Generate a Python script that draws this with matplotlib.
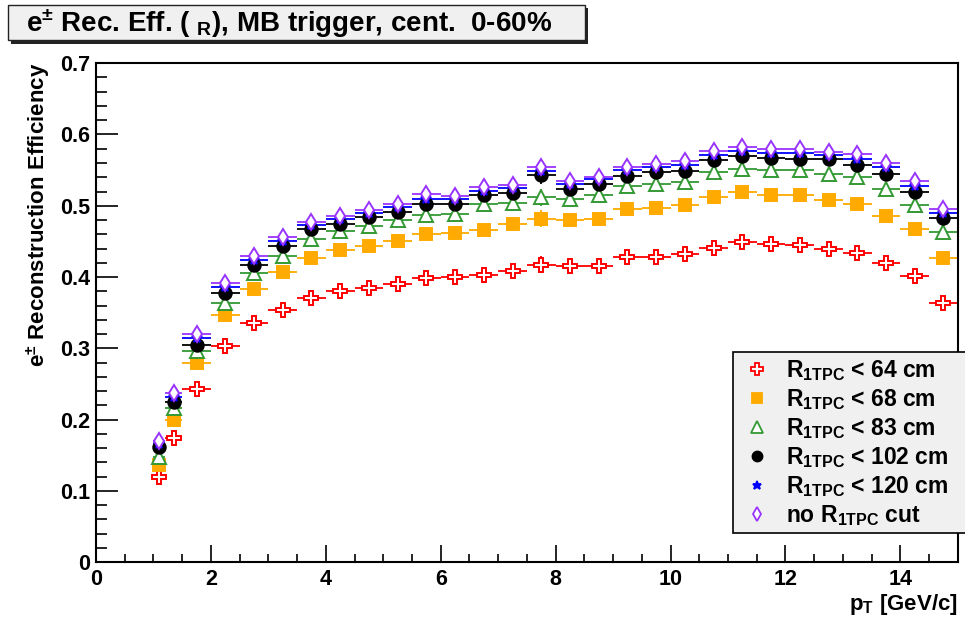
import matplotlib
matplotlib.use("Agg")
import matplotlib.pyplot as plt
from matplotlib.lines import Line2D
from matplotlib.patches import Rectangle

plt.rcParams['font.family'] = ['Liberation Sans', 'DejaVu Sans']
plt.rcParams['font.weight'] = 'bold'
plt.rcParams['axes.labelweight'] = 'bold'
plt.rcParams['mathtext.fontset'] = 'custom'
plt.rcParams['mathtext.rm'] = 'Liberation Sans:bold'
plt.rcParams['mathtext.it'] = 'Liberation Sans:bold'
plt.rcParams['mathtext.bf'] = 'Liberation Sans:bold'
plt.rcParams['mathtext.default'] = 'rm'

# bin centres and half widths (GeV/c)
pt = [1.1, 1.35, 1.75, 2.25, 2.75, 3.25, 3.75, 4.25, 4.75, 5.25, 5.75, 6.25, 6.75,
      7.25, 7.75, 8.25, 8.75, 9.25, 9.75, 10.25, 10.75, 11.25, 11.75, 12.25,
      12.75, 13.25, 13.75, 14.25, 14.75]
pt_err = [0.1, 0.15, 0.25] + [0.25] * 26

eff_64 = [0.119, 0.174, 0.243, 0.303, 0.336, 0.353, 0.370, 0.380, 0.385, 0.390,
          0.399, 0.400, 0.403, 0.409, 0.417, 0.416, 0.416, 0.428, 0.428, 0.432,
          0.441, 0.449, 0.447, 0.445, 0.439, 0.433, 0.420, 0.402, 0.364]
eff_68 = [0.136, 0.199, 0.279, 0.346, 0.383, 0.407, 0.427, 0.438, 0.444, 0.451,
          0.460, 0.462, 0.466, 0.475, 0.482, 0.480, 0.482, 0.495, 0.497, 0.501,
          0.512, 0.519, 0.515, 0.515, 0.508, 0.503, 0.485, 0.467, 0.427]
eff_83 = [0.148, 0.216, 0.296, 0.364, 0.405, 0.430, 0.453, 0.464, 0.472, 0.480,
          0.487, 0.489, 0.502, 0.504, 0.512, 0.510, 0.515, 0.528, 0.530, 0.533,
          0.547, 0.552, 0.550, 0.550, 0.544, 0.540, 0.524, 0.501, 0.463]
eff_102 = [0.161, 0.225, 0.304, 0.378, 0.417, 0.444, 0.467, 0.475, 0.484, 0.491,
           0.502, 0.503, 0.515, 0.518, 0.543, 0.524, 0.531, 0.542, 0.547, 0.549,
           0.564, 0.570, 0.567, 0.566, 0.565, 0.557, 0.545, 0.520, 0.483]
eff_120 = [0.166, 0.232, 0.314, 0.386, 0.424, 0.451, 0.473, 0.481, 0.490, 0.498,
           0.510, 0.509, 0.521, 0.525, 0.549, 0.531, 0.537, 0.550, 0.554, 0.557,
           0.571, 0.577, 0.574, 0.574, 0.571, 0.566, 0.554, 0.528, 0.490]
eff_nocut = [0.170, 0.237, 0.320, 0.392, 0.429, 0.456, 0.477, 0.485, 0.494, 0.502,
             0.516, 0.513, 0.526, 0.529, 0.554, 0.535, 0.541, 0.555, 0.559, 0.563,
             0.577, 0.583, 0.580, 0.580, 0.575, 0.572, 0.560, 0.535, 0.496]
eff_err = [0.006, 0.006, 0.005, 0.004, 0.004, 0.004, 0.004, 0.004, 0.004, 0.004,
           0.004, 0.004, 0.004, 0.004, 0.012, 0.004, 0.004, 0.004, 0.004, 0.004,
           0.004, 0.004, 0.004, 0.004, 0.004, 0.004, 0.005, 0.005, 0.006]

labels = [r"R$_{1TPC}$ < 64 cm", r"R$_{1TPC}$ < 68 cm", r"R$_{1TPC}$ < 83 cm",
          r"R$_{1TPC}$ < 102 cm", r"R$_{1TPC}$ < 120 cm", r"no R$_{1TPC}$ cut"]
yticks = [0, 0.1, 0.2, 0.3, 0.4, 0.5, 0.6, 0.7]
ytick_labels = ["0", "0.1", "0.2", "0.3", "0.4", "0.5", "0.6", "0.7"]
xticks = [0, 2, 4, 6, 8, 10, 12, 14]

# (data, colour, marker, size, filled)
series = [
    (eff_64, "#ff0000", "P", 10, False),
    (eff_68, "#ffaa00", "s", 8.5, True),
    (eff_83, "#339933", "^", 10, False),
    (eff_102, "#000000", "o", 9, True),
    (eff_120, "#0000ff", "*", 8, True),
    (eff_nocut, "#9933ff", "d", 8.5, False),
]

fig = plt.figure(figsize=(9.65, 6.2), dpi=100)
ax = fig.add_axes([0.0995, 0.0935, 0.893, 0.8045])

handles = []
for (vals, col, mk, ms, filled), lab in zip(series, labels):
    face = col if filled else "white"
    ax.errorbar(pt, vals, xerr=pt_err, yerr=eff_err, fmt=mk, color=col,
                ms=ms, mfc=face, mec=col, mew=1.4, elinewidth=1.3, capsize=0)
    handles.append(Line2D([], [], ls="none", marker=mk, color=col, ms=ms * 0.8,
                          mfc=face, mec=col, mew=1.3, label=lab))

ax.set_xlim(0, 15)
ax.set_ylim(0, 0.7)
ax.set_xticks(xticks)
ax.set_xticklabels([str(t) for t in xticks], fontweight="bold")
ax.set_xticks([i * 0.5 for i in range(31)], minor=True)
ax.set_yticks(yticks)
ax.set_yticklabels(ytick_labels, fontweight="bold")
ax.set_yticks([i * 0.02 for i in range(36)], minor=True)
ax.tick_params(axis="both", which="both", direction="in", labelsize=15.5,
               top=False, right=False, width=1.2)
ax.tick_params(axis="y", which="major", length=16, pad=4)
ax.tick_params(axis="y", which="minor", length=8)
ax.tick_params(axis="x", which="major", length=12, pad=5)
ax.tick_params(axis="x", which="minor", length=6)
for sp in ax.spines.values():
    sp.set_linewidth(1.5)

ax.set_ylabel(r"e$^{\pm}$ Reconstruction Efficiency", fontsize=16, loc="top",
              labelpad=6)
ax.set_xlabel(r"p$_{T}$ [GeV/c]", fontsize=16, loc="right", labelpad=1.5)

# legend box runs off the right edge of the canvas, as in the original
leg = fig.legend(handles=handles, loc="upper left", mode="expand",
                 bbox_to_anchor=(0.7596, 0.143, 0.26, 0.2893), fontsize=16.5,
                 frameon=True, fancybox=False, edgecolor="black",
                 facecolor="#f0f0f0", framealpha=1, labelspacing=0.18,
                 handletextpad=0.45, borderpad=0.25, handlelength=1.6,
                 borderaxespad=0)
leg.get_frame().set_linewidth(1.2)

# title box with shadow
fig.patches.append(Rectangle((0.0115, 0.929), 0.5975, 0.058,
                             transform=fig.transFigure, facecolor="#222222",
                             edgecolor="none", zorder=1))
fig.patches.append(Rectangle((0.0083, 0.935), 0.5975, 0.057,
                             transform=fig.transFigure, facecolor="#f0f0f0",
                             edgecolor="#222222", linewidth=1.0, zorder=2))
fig.text(0.3, 0.962, r"e$^{\pm}$ Rec. Eff. ( $_{R}$), MB trigger, cent.  0-60%",
         fontsize=20, ha="center", va="center", zorder=3)

fig.savefig("out.png", dpi=100)
